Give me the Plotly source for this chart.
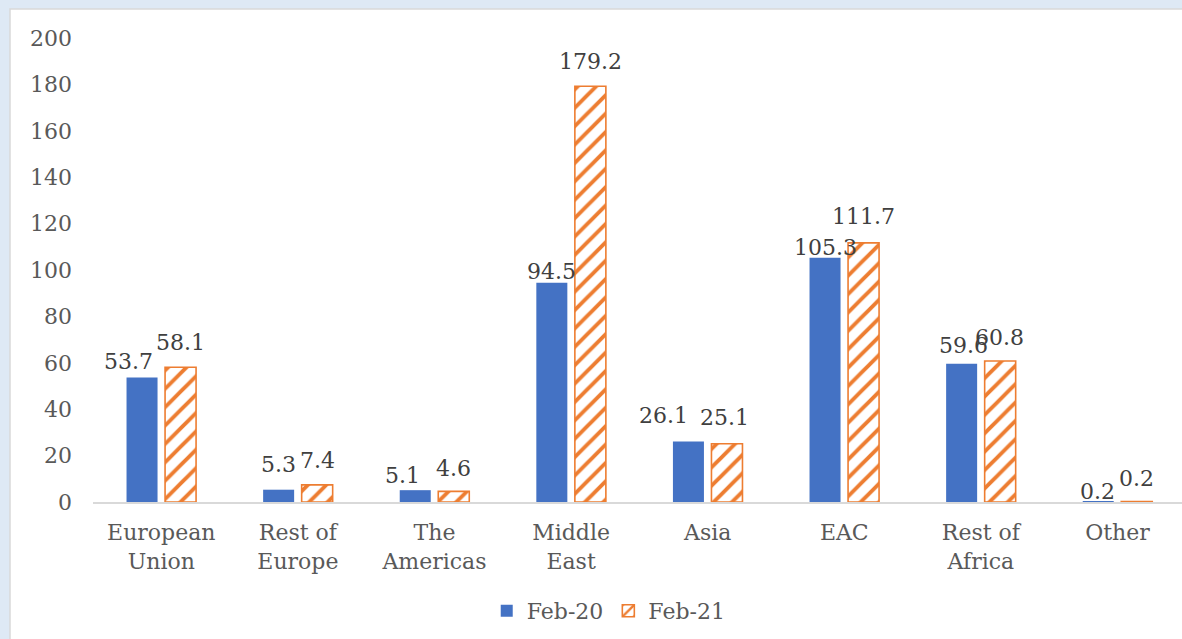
import plotly.graph_objects as go

# ---- data ----
categories = ["European<br>Union", "Rest of<br>Europe", "The<br>Americas", "Middle<br>East",
              "Asia", "EAC", "Rest of<br>Africa", "Other"]
feb20 = [53.7, 5.3, 5.1, 94.5, 26.1, 105.3, 59.6, 0.2]
feb21 = [58.1, 7.4, 4.6, 179.2, 25.1, 111.7, 60.8, 0.2]
series_names = ["Feb-20", "Feb-21"]
y_ticks = [0, 20, 40, 60, 80, 100, 120, 140, 160, 180, 200]

# ---- label nudges (pixels) ----
shift20 = [(-14, 16), (0, 25), (-13, 15), (0, 11), (-25, 26), (0, 10), (2, 18), (-1, 10)]
shift21 = [(0, 25), (0, 24), (0, 23), (0, 25), (-2, 26), (0, 26), (-1, 23), (0, 23)]

BLUE = "#4472C4"
ORANGE = "#ED7D31"
FONT = "DejaVu Serif"

W, H = 1182, 639
L, R, T, B = 93, 0, 38, 137
BARGAP = 0.436
GROUPGAP = 0.195

fig = go.Figure()
fig.add_trace(go.Bar(
    x=list(range(len(categories))), y=feb20, name=series_names[0],
    marker=dict(color=BLUE, line=dict(width=0)),
))
fig.add_trace(go.Bar(
    x=list(range(len(categories))), y=feb21, name=series_names[1],
    marker=dict(color="white", line=dict(color=ORANGE, width=1.6),
                pattern=dict(shape="/", fgcolor=ORANGE, bgcolor="white",
                             size=13, solidity=0.3, fillmode="replace")),
))

off = (1 - BARGAP) / 4.0
annotations = []
for i in range(len(categories)):
    for vals, shifts, sgn in ((feb20, shift20, -1), (feb21, shift21, 1)):
        dx, dy = shifts[i]
        annotations.append(dict(
            x=i + sgn * off, y=vals[i], xref="x", yref="y",
            text=f"{vals[i]:.1f}", showarrow=False,
            xanchor="center", yanchor="middle",
            xshift=dx, yshift=dy,
            font=dict(family=FONT, size=22, color="#404040"),
        ))

plot_w = W - L - R
cat_px = 136.6
x_max = -0.5 + plot_w / cat_px
plot_h = H - T - B

fig.update_layout(
    width=W, height=H,
    margin=dict(l=L, r=R, t=T, b=B, pad=0),
    paper_bgcolor="#DEE9F5",
    plot_bgcolor="white",
    barmode="group", bargap=BARGAP, bargroupgap=GROUPGAP,
    font=dict(family=FONT, size=22, color="#595959"),
    showlegend=True,
    legend=dict(orientation="h", xref="container", yref="container",
                x=0.515, xanchor="center", y=(H - 611) / H, yanchor="middle",
                font=dict(family=FONT, size=22, color="#595959"),
                itemwidth=30, bgcolor="rgba(0,0,0,0)"),
    annotations=annotations,
    shapes=[dict(type="rect", xref="paper", yref="paper",
                 x0=(10 - L) / plot_w, x1=1.2,
                 y0=-0.6, y1=1 + (T - 9) / plot_h,
                 fillcolor="white", line=dict(color="#D9D9D9", width=1.5),
                 layer="below")],
    xaxis=dict(
        tickmode="array", tickvals=list(range(len(categories))), ticktext=categories,
        range=[-0.5, x_max], showgrid=False, zeroline=False,
        showline=True, linecolor="#D9D9D9", linewidth=1.5,
        ticks="", ticklabelstandoff=10,
        tickfont=dict(family=FONT, size=22, color="#595959"),
    ),
    yaxis=dict(
        range=[0, 200], tickmode="array", tickvals=y_ticks,
        showgrid=False, zeroline=False, showline=False, ticks="",
        ticklabelstandoff=20,
        tickfont=dict(family=FONT, size=22, color="#595959"),
    ),
)

fig.write_html(
    "out.html",
    config={"displayModeBar": False},
    post_script="document.body.style.margin='0';document.body.style.overflow='hidden';",
)
